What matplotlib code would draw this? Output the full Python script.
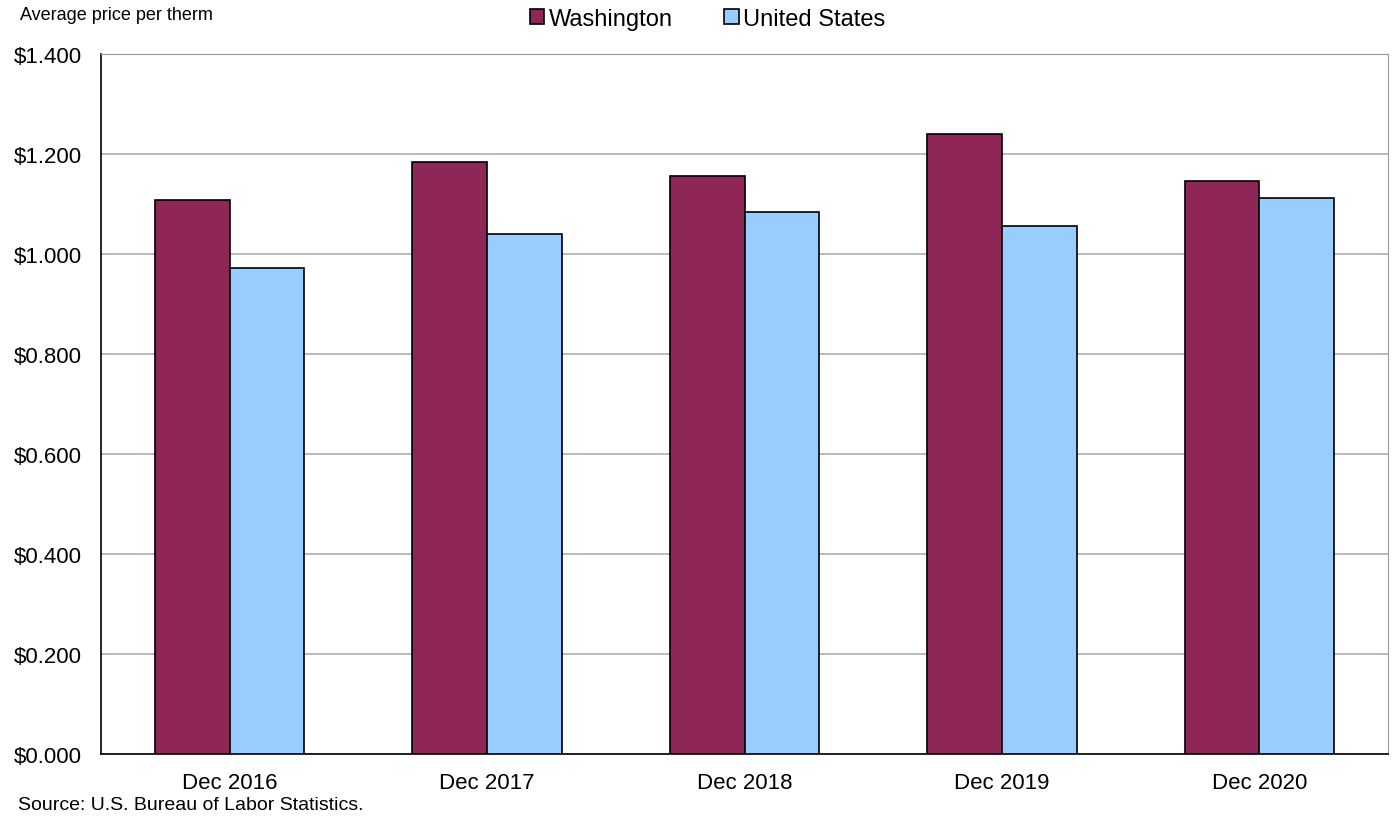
import numpy as np
import matplotlib.pyplot as plt

plt.rcParams['font.family'] = ['Liberation Sans', 'DejaVu Sans']

# prijzen per therm
categories = ["Dec 2016", "Dec 2017", "Dec 2018", "Dec 2019", "Dec 2020"]
washington = [1.108, 1.184, 1.156, 1.240, 1.146]
united_states = [0.972, 1.040, 1.084, 1.056, 1.112]
yticks = [0.0, 0.2, 0.4, 0.6, 0.8, 1.0, 1.2, 1.4]

fig = plt.figure(figsize=(13.93, 8.2), dpi=100)
ax = fig.add_axes([0.0725, 0.0793, 0.924, 0.854])

x = np.arange(len(categories))
w = 0.29
ax.bar(x - w / 2, washington, w, color="#8E2657", edgecolor="black", linewidth=1.2,
       label="Washington", zorder=3)
ax.bar(x + w / 2, united_states, w, color="#99CCFF", edgecolor="black", linewidth=1.2,
       label="United States", zorder=3)

ax.set_xlim(-0.5, len(categories) - 0.5)
ax.set_ylim(0, 1.4)
ax.set_yticks(yticks)
ax.set_yticklabels(["${:.3f}".format(v) for v in yticks])
ax.set_xticks(x)
ax.set_xticklabels(categories)
ax.tick_params(axis="both", length=0, labelsize=16)
ax.tick_params(axis="y", pad=14)
ax.tick_params(axis="x", pad=13)
ax.yaxis.grid(True, color="#b4acb0", linewidth=1.2, zorder=0)

for side in ["top", "right"]:
    ax.spines[side].set_color("#999999")
ax.spines["left"].set_linewidth(1.2)
ax.spines["bottom"].set_linewidth(1.2)

fig.text(0.014, 0.981, "Average price per therm", fontsize=13, ha="left", va="center")
fig.text(0.013, 0.018, "Source: U.S. Bureau of Labor Statistics.", fontsize=14,
         ha="left", va="center")

fig.legend(loc="center", bbox_to_anchor=(0.508, 0.976), ncol=2, frameon=False,
           fontsize=17, handlelength=0.6, handleheight=0.6, handletextpad=0.2,
           columnspacing=2.2)

plt.savefig("out.png", dpi=100)
